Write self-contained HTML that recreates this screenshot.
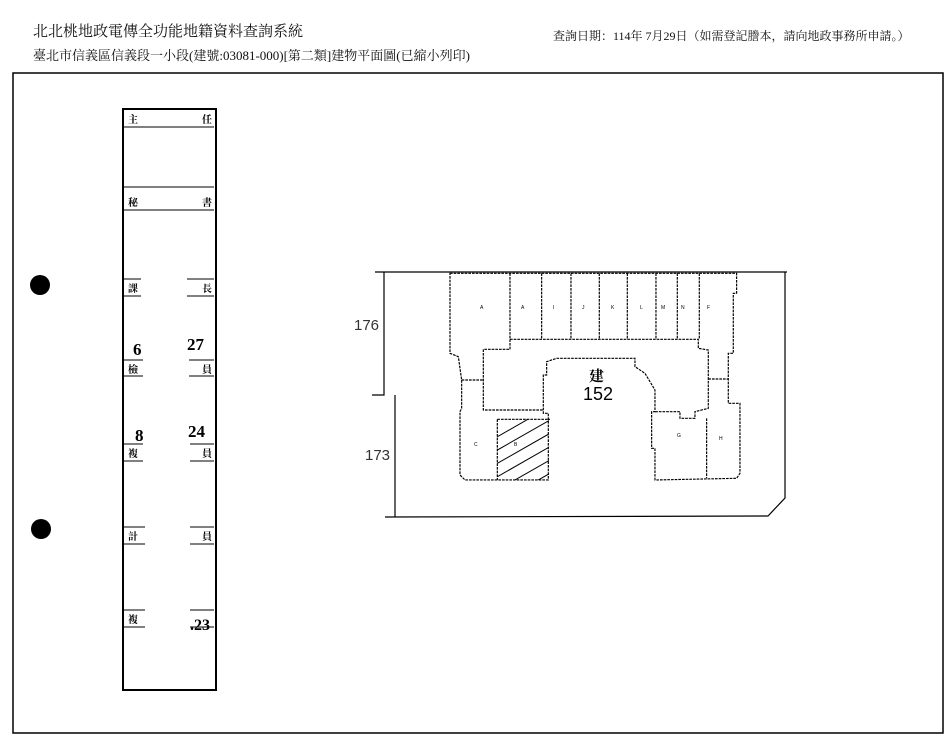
<!DOCTYPE html>
<html><head><meta charset="utf-8"><style>
body{margin:0;background:#fff;width:951px;height:750px;overflow:hidden;font-family:"Liberation Serif","Noto Serif CJK SC",serif;}
.t{position:absolute;white-space:nowrap;color:#111;}
</style></head><body>
<div class="t" style="left:33px;top:20px;font-size:15px;">北北桃地政電傳全功能地籍資料查詢系統</div>
<div class="t" style="left:33px;top:45px;font-size:13px;">臺北市信義區信義段一小段(建號:03081-000)[第二類]建物平面圖(已縮小列印)</div>
<div class="t" style="left:553px;top:27px;font-size:12px;">查詢日期：114年 7月29日（如需登記謄本，請向地政事務所申請。）</div>
<svg width="951" height="750" style="position:absolute;left:0;top:0" font-family="Liberation Serif, Noto Serif CJK SC, serif">
<rect x="13" y="73" width="930" height="660" fill="none" stroke="#000" stroke-width="1.5"/>
<circle cx="40" cy="285" r="10" fill="#000"/>
<circle cx="41" cy="529" r="10" fill="#000"/>
<g stroke="#000" fill="none">
<rect x="123" y="109" width="93" height="581" stroke-width="2"/>
<line x1="123" y1="127" x2="214" y2="127"/>
<line x1="123" y1="187" x2="214" y2="187"/>
<line x1="123" y1="210" x2="214" y2="210"/>
<line x1="123" y1="279" x2="141" y2="279"/><line x1="187" y1="279" x2="214" y2="279"/>
<line x1="123" y1="296" x2="141" y2="296"/><line x1="187" y1="296" x2="214" y2="296"/>
<line x1="123" y1="360" x2="143" y2="360"/><line x1="189" y1="360" x2="214" y2="360"/>
<line x1="123" y1="376" x2="143" y2="376"/><line x1="189" y1="376" x2="214" y2="376"/>
<line x1="123" y1="444" x2="143" y2="444"/><line x1="190" y1="444" x2="214" y2="444"/>
<line x1="123" y1="461" x2="143" y2="461"/><line x1="190" y1="461" x2="214" y2="461"/>
<line x1="123" y1="527" x2="145" y2="527"/><line x1="190" y1="527" x2="214" y2="527"/>
<line x1="123" y1="544" x2="145" y2="544"/><line x1="190" y1="544" x2="214" y2="544"/>
<line x1="123" y1="610" x2="145" y2="610"/><line x1="190" y1="610" x2="214" y2="610"/>
<line x1="123" y1="627" x2="145" y2="627"/><line x1="190" y1="627" x2="214" y2="627"/>
</g>
<g font-size="10" font-weight="bold" fill="#000">
<text x="128" y="123">主</text><text x="202" y="123">任</text>
<text x="128" y="206">秘</text><text x="202" y="206">書</text>
<text x="128" y="292">課</text><text x="202" y="292">長</text>
<text x="128" y="373">檢</text><text x="202" y="373">員</text>
<text x="128" y="457">複</text><text x="202" y="457">員</text>
<text x="128" y="540">計</text><text x="202" y="540">員</text>
<text x="128" y="623">複</text>
</g>
<g font-size="17" font-weight="bold" fill="#000">
<text x="133" y="355">6</text><text x="187" y="350">27</text>
<text x="135" y="441">8</text><text x="188" y="437">24</text>
<text x="190" y="630" font-size="16">.23</text>
</g>
<g stroke="#000" fill="none" stroke-width="1.2">
<polyline points="375,272 787,272"/>
<polyline points="785,272 785,498 768,516 385,517"/>
<polyline points="384,272 384,395 372,395"/>
<polyline points="395,395 395,517"/>
</g>
<g font-family="Liberation Sans, sans-serif" fill="#333">
<text x="354" y="330" font-size="15">176</text>
<text x="365" y="460" font-size="15">173</text>
</g>
<g transform="translate(340,260) scale(0.3333)" stroke="#000" fill="none" stroke-width="3.5" stroke-dasharray="8,3">
<polygon points="330,40 1190,40 1190,100 1180,100 1180,280 1165,280 1165,430 1200,430 1200,640 1190,655 945,660 945,565 935,565 935,455 945,455 945,390 915,340 885,320 885,295 650,295 620,305 620,345 610,345 610,460 625,460 625,660 375,660 360,645 360,455 365,445 365,360 355,290 330,280"/>
<polyline points="510,40 510,238 1075,238 1075,265 1105,270 1105,445 1065,455 1065,475 1020,475 1020,455 945,455"/>
<polyline points="510,238 510,268 430,268 430,450 610,450"/>
<line x1="365" y1="360" x2="430" y2="360"/>
<line x1="1105" y1="357" x2="1165" y2="357"/>
<line x1="472" y1="478" x2="472" y2="660"/>
<line x1="472" y1="478" x2="630" y2="478"/>
<line x1="1100" y1="475" x2="1100" y2="655"/>
<line x1="605" y1="40" x2="605" y2="238"/><line x1="693" y1="40" x2="693" y2="238"/>
<line x1="778" y1="40" x2="778" y2="238"/><line x1="862" y1="40" x2="862" y2="238"/>
<line x1="948" y1="40" x2="948" y2="238"/><line x1="1012" y1="40" x2="1012" y2="238"/>
<line x1="1078" y1="40" x2="1078" y2="238"/>
</g>
<g transform="translate(340,260) scale(0.3333)" stroke="#000" stroke-width="3">
<clipPath id="c"><rect x="472" y="478" width="155" height="182"/></clipPath>
<g clip-path="url(#c)">
<line x1="420" y1="560" x2="700" y2="400"/><line x1="420" y1="600" x2="700" y2="440"/>
<line x1="420" y1="640" x2="700" y2="480"/><line x1="420" y1="680" x2="700" y2="520"/>
<line x1="420" y1="720" x2="700" y2="560"/><line x1="420" y1="760" x2="700" y2="600"/>
<line x1="420" y1="800" x2="700" y2="640"/><line x1="420" y1="840" x2="700" y2="680"/>
</g>
</g>
<g font-size="5" fill="#000" font-family="Liberation Sans, sans-serif">
<text x="480" y="309">A</text><text x="521" y="309">A</text><text x="553" y="309">I</text><text x="582" y="309">J</text>
<text x="611" y="309">K</text><text x="640" y="309">L</text><text x="661" y="309">M</text><text x="681" y="309">N</text>
<text x="707" y="309">F</text><text x="474" y="446">C</text><text x="514" y="446">B</text>
<text x="677" y="437">G</text><text x="719" y="440">H</text>
</g>
<text x="589" y="381" font-size="15" font-weight="bold" fill="#000">建</text>
<text x="583" y="400" font-size="18" fill="#000" font-family="Liberation Sans, sans-serif">152</text>
</svg>
</body></html>
